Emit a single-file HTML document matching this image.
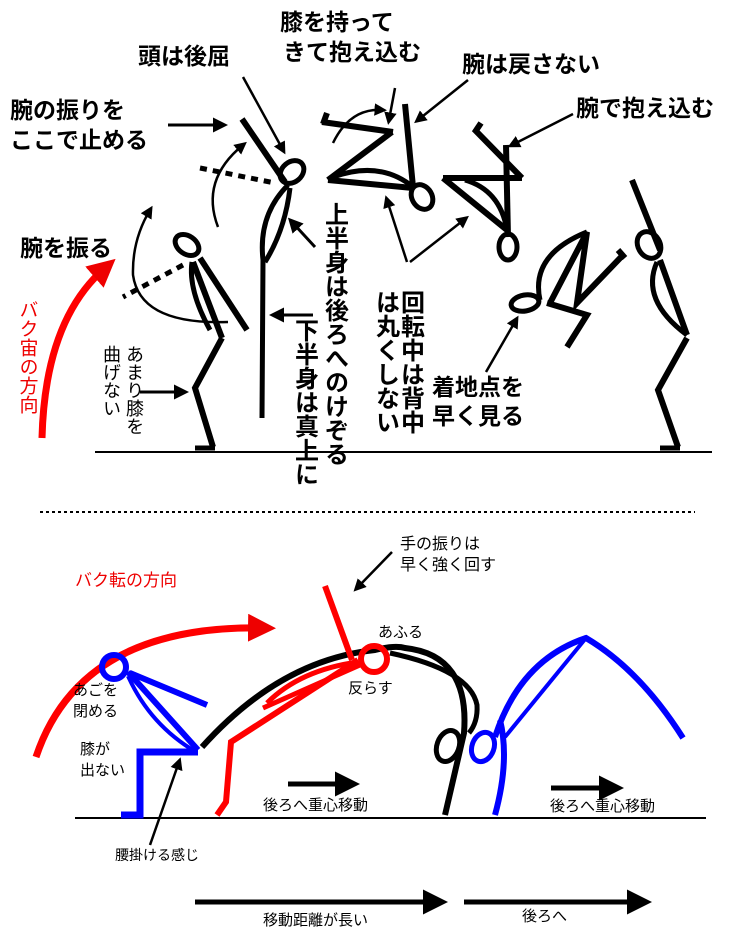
<!DOCTYPE html>
<html><head><meta charset="utf-8"><style>
html,body{margin:0;padding:0;background:#fff;}
svg{display:block;}
text{font-family:"Liberation Sans","Noto Sans CJK JP",sans-serif;}
.b{font-weight:bold;font-size:23px;fill:#000;}
.v{font-weight:bold;font-size:24px;fill:#000;writing-mode:vertical-rl;}
</style></head><body>
<svg width="740" height="940" viewBox="0 0 740 940" xmlns="http://www.w3.org/2000/svg">
<defs>
<marker id="ah" markerWidth="5" markerHeight="5" refX="3" refY="2.5" orient="auto" markerUnits="strokeWidth"><path d="M0,0L5,2.5L0,5z" fill="#000"/></marker>
<marker id="ahr" markerWidth="4" markerHeight="4" refX="2" refY="2" orient="auto" markerUnits="strokeWidth"><path d="M0,0L4,2L0,4z" fill="#e00"/></marker>
</defs>
<g fill="none" stroke="#000" stroke-linecap="butt">
<line x1="95" y1="452" x2="712" y2="452" stroke-width="2"/>
<line x1="40" y1="512" x2="695" y2="512" stroke-width="2" stroke-dasharray="3,3"/>
<line x1="75" y1="818" x2="706" y2="818" stroke-width="2"/>

<ellipse cx="187" cy="245" rx="13" ry="9" transform="rotate(35 187 245)" stroke-width="5"/>
<line x1="193" y1="262" x2="222" y2="338" stroke-width="6"/>
<path d="M192,262 Q188,290 210,330" stroke-width="5"/>
<line x1="200" y1="258" x2="247" y2="330" stroke-width="6"/>
<polyline points="222,338 195,388 213,447" stroke-width="6"/>
<line x1="195" y1="448" x2="215" y2="448" stroke-width="5"/>
<line x1="183" y1="265" x2="123" y2="297" stroke-width="5" stroke-dasharray="7,6"/>
<path d="M228,322 Q140,325 133,275 Q132,240 150,210" stroke-width="2.5" marker-end="url(#ah)"/>

<ellipse cx="292" cy="172" rx="13" ry="10" transform="rotate(-40 292 172)" stroke-width="5"/>
<line x1="242" y1="119" x2="285" y2="182" stroke-width="6"/>
<line x1="200" y1="168" x2="275" y2="183" stroke-width="5" stroke-dasharray="7,6"/>
<path d="M218,227 Q200,180 243,145" stroke-width="2.5" marker-end="url(#ah)"/>
<path d="M288,185 Q258,215 263,260 L262,418" stroke-width="5"/>
<path d="M290,188 Q285,230 265,262" stroke-width="5"/>
<line x1="168" y1="125" x2="222" y2="125" stroke-width="3" marker-end="url(#ah)"/>
<line x1="243" y1="77" x2="283" y2="150" stroke-width="2.5" marker-end="url(#ah)"/>
<line x1="315" y1="247" x2="292" y2="222" stroke-width="3" marker-end="url(#ah)"/>
<line x1="313" y1="315" x2="275" y2="315" stroke-width="3" marker-end="url(#ah)"/>

<line x1="322" y1="122" x2="393" y2="132" stroke-width="6"/>
<line x1="323" y1="124" x2="327" y2="113" stroke-width="6"/>
<line x1="392" y1="132" x2="328" y2="180" stroke-width="6"/>
<line x1="328" y1="180" x2="413" y2="188" stroke-width="6"/>
<path d="M333,177 Q380,160 413,187" stroke-width="5"/>
<line x1="405" y1="104" x2="413" y2="187" stroke-width="6"/>
<ellipse cx="422" cy="197" rx="10" ry="13" transform="rotate(-30 422 197)" stroke-width="5"/>
<path d="M333,143 Q350,108 382,110" stroke-width="2.5" marker-end="url(#ah)"/>
<line x1="395" y1="88" x2="389" y2="120" stroke-width="2.5" marker-end="url(#ah)"/>
<line x1="468" y1="80" x2="418" y2="120" stroke-width="2.5" marker-end="url(#ah)"/>

<line x1="481" y1="123" x2="475" y2="132" stroke-width="6"/>
<line x1="474" y1="129" x2="522" y2="178" stroke-width="6"/>
<line x1="506" y1="145" x2="508" y2="237" stroke-width="6"/>
<line x1="443" y1="178" x2="522" y2="178" stroke-width="6"/>
<line x1="443" y1="178" x2="507" y2="230" stroke-width="6"/>
<path d="M465,180 Q500,190 507,230" stroke-width="5"/>
<ellipse cx="508" cy="247" rx="9" ry="13" stroke-width="5"/>
<line x1="573" y1="114" x2="512" y2="145" stroke-width="2.5" marker-end="url(#ah)"/>
<line x1="407" y1="262" x2="387" y2="200" stroke-width="2.5" marker-end="url(#ah)"/>
<line x1="410" y1="262" x2="465" y2="219" stroke-width="2.5" marker-end="url(#ah)"/>

<ellipse cx="525" cy="303" rx="14" ry="8" transform="rotate(-10 525 303)" stroke-width="5"/>
<path d="M540,300 Q530,255 587,232" stroke-width="5"/>
<polyline points="550,303 587,232 577,303 623,255" stroke-width="6"/>
<line x1="618" y1="250" x2="625" y2="258" stroke-width="6"/>
<polyline points="547,303 587,315 567,347" stroke-width="6"/>
<line x1="486" y1="372" x2="516" y2="320" stroke-width="2.5" marker-end="url(#ah)"/>

<line x1="632" y1="180" x2="660" y2="250" stroke-width="6"/>
<ellipse cx="649" cy="245" rx="11" ry="14" transform="rotate(-30 649 245)" stroke-width="5"/>
<path d="M657,262 Q640,300 687,335" stroke-width="5"/>
<line x1="660" y1="260" x2="687" y2="335" stroke-width="6"/>
<polyline points="687,338 658,390 678,447" stroke-width="6"/>
<line x1="660" y1="448" x2="680" y2="448" stroke-width="5"/>
<line x1="140" y1="392" x2="183" y2="392" stroke-width="3" marker-end="url(#ah)"/>
</g>
<path d="M42,438 Q45,320 105,268" fill="none" stroke="#f00" stroke-width="7" marker-end="url(#ahr)"/>

<text class="b" x="10" y="118">腕の振りを</text>
<text class="b" x="10" y="148">ここで止める</text>
<text class="b" x="138" y="64">頭は後屈</text>
<text class="b" x="280" y="30">膝を持って</text>
<text class="b" x="283" y="60">きて抱え込む</text>
<text class="b" x="462" y="72">腕は戻さない</text>
<text class="b" x="576" y="116">腕で抱え込む</text>
<text class="b" x="20" y="256">腕を振る</text>
<text class="b" x="432" y="395">着地点を</text>
<text class="b" x="432" y="424">早く見る</text>
<text x="334" y="202" class="v">上半身は後ろへのけぞる</text>
<text x="304" y="318" class="v">下半身は真上に</text>
<text x="410" y="290" class="v">回転中は背中</text>
<text x="385" y="290" class="v">は丸くしない</text>
<text x="27" y="300" font-size="19" fill="#e00" style="writing-mode:vertical-rl">バク宙の方向</text>
<text x="134" y="345" font-size="18" fill="#000" style="writing-mode:vertical-rl">あまり膝を</text>
<text x="111" y="345" font-size="18" fill="#000" style="writing-mode:vertical-rl">曲げない</text>

<text x="75" y="586" font-size="17" fill="#e00">バク転の方向</text>
<path d="M36,757 Q80,625 262,628" fill="none" stroke="#f00" stroke-width="7" marker-end="url(#ahr)"/>
<text x="400" y="549" font-size="16">手の振りは</text>
<text x="400" y="570" font-size="16">早く強く回す</text>
<line x1="392" y1="552" x2="357" y2="588" stroke="#000" stroke-width="2.5" marker-end="url(#ah)"/>
<path d="M202,747 Q280,660 375,650 Q395,645 405,648 Q470,655 464,733 L445,815" fill="none" stroke="#000" stroke-width="6"/>
<path d="M390,653 Q470,670 477,705 Q478,722 469,733" fill="none" stroke="#000" stroke-width="5"/>
<ellipse cx="448" cy="746" rx="11" ry="16" transform="rotate(20 448 746)" fill="none" stroke="#000" stroke-width="5"/>
<line x1="325" y1="586" x2="352" y2="660" stroke="#f00" stroke-width="6"/>
<circle cx="374" cy="659" r="13" fill="none" stroke="#f00" stroke-width="6"/>
<polyline points="358,660 231,742 226,802 217,815" fill="none" stroke="#f00" stroke-width="6"/>
<path d="M267,703 Q300,670 358,662" fill="none" stroke="#f00" stroke-width="5"/>
<line x1="263" y1="708" x2="360" y2="665" stroke="#f00" stroke-width="5"/>
<text x="378" y="637" font-size="15">あふる</text>
<text x="348" y="693" font-size="15">反らす</text>
<circle cx="114" cy="667" r="12" fill="none" stroke="#00f" stroke-width="6"/>
<line x1="128" y1="672" x2="198" y2="750" stroke="#00f" stroke-width="6"/>
<path d="M128,676 Q150,725 196,752" fill="none" stroke="#00f" stroke-width="4"/>
<line x1="130" y1="673" x2="207" y2="705" stroke="#00f" stroke-width="6"/>
<polyline points="198,752 140,752 140,815 121,815" fill="none" stroke="#00f" stroke-width="7"/>
<text x="73" y="695" font-size="15">あごを</text>
<text x="73" y="716" font-size="15">閉める</text>
<text x="80" y="754" font-size="15">膝が</text>
<text x="80" y="775" font-size="15">出ない</text>
<line x1="150" y1="845" x2="179" y2="762" stroke="#000" stroke-width="2.5" marker-end="url(#ah)"/>
<text x="115" y="860" font-size="14">腰掛ける感じ</text>
<path d="M495,737 Q520,660 586,638 Q640,670 683,738" fill="none" stroke="#00f" stroke-width="6"/>
<path d="M505,737 L586,638" fill="none" stroke="#00f" stroke-width="4"/>
<ellipse cx="483" cy="747" rx="11" ry="15" transform="rotate(20 483 747)" fill="none" stroke="#00f" stroke-width="5"/>
<path d="M495,815 Q510,760 500,720" fill="none" stroke="#00f" stroke-width="6"/>
<line x1="288" y1="784" x2="350" y2="784" stroke="#000" stroke-width="5" marker-end="url(#ah)"/>
<text x="263" y="810" font-size="15">後ろへ重心移動</text>
<line x1="551" y1="788" x2="614" y2="788" stroke="#000" stroke-width="5" marker-end="url(#ah)"/>
<text x="550" y="811" font-size="15">後ろへ重心移動</text>
<line x1="195" y1="902" x2="438" y2="902" stroke="#000" stroke-width="5" marker-end="url(#ah)"/>
<text x="263" y="925" font-size="15">移動距離が長い</text>
<line x1="464" y1="902" x2="642" y2="902" stroke="#000" stroke-width="5" marker-end="url(#ah)"/>
<text x="522" y="921" font-size="15">後ろへ</text>
</svg>
</body></html>
